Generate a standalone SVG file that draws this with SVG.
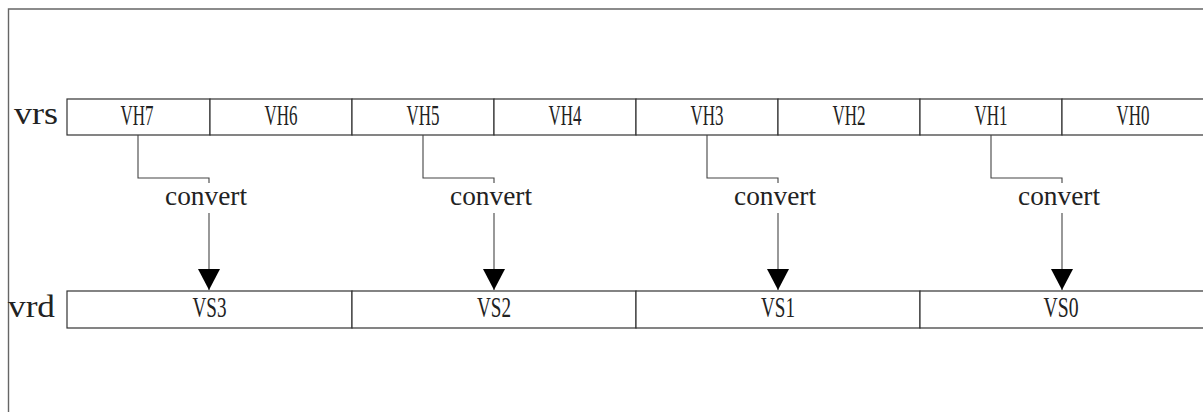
<svg xmlns="http://www.w3.org/2000/svg" width="1203" height="412" viewBox="0 0 1203 412">
  <style>
    .frame { fill: none; stroke: #666; stroke-width: 1.4; }
    .cell { fill: #fff; stroke: #333; stroke-width: 1.2; }
    .lbl { font-family: "Liberation Serif", serif; font-size: 29px; fill: #222; text-anchor: middle; }
    .reg { font-family: "Liberation Serif", serif; font-size: 32px; fill: #222; }
    .conv { font-family: "Liberation Serif", serif; font-size: 27px; fill: #222; text-anchor: middle; }
    .wire { fill: none; stroke: #444; stroke-width: 1.1; }
    .head { fill: #000; }
  </style>
  <defs>
    <marker id="arrow" markerWidth="21" markerHeight="22" refX="21" refY="11" orient="auto" markerUnits="userSpaceOnUse" viewBox="0 0 21 22">
      <path d="M0,0 L21,11 L0,22 Z" class="head"/>
    </marker>
  </defs>

  <rect width="1203" height="412" fill="#fff"/>
  <!-- outer frame, open to the right and bottom -->
  <path class="frame" d="M8.5,420 L8.5,9 L1210,9"/>

  <!-- source register row -->
  <text class="reg" x="14" y="124" textLength="44" lengthAdjust="spacingAndGlyphs">vrs</text>
  <g id="vh7"><rect class="cell" x="67" y="99" width="143" height="36"/><text class="lbl" x="137" y="125" textLength="33" lengthAdjust="spacingAndGlyphs">VH7</text></g>
  <g id="vh6"><rect class="cell" x="210" y="99" width="142" height="36"/><text class="lbl" x="281" y="125" textLength="33" lengthAdjust="spacingAndGlyphs">VH6</text></g>
  <g id="vh5"><rect class="cell" x="352" y="99" width="142" height="36"/><text class="lbl" x="423" y="125" textLength="33" lengthAdjust="spacingAndGlyphs">VH5</text></g>
  <g id="vh4"><rect class="cell" x="494" y="99" width="142" height="36"/><text class="lbl" x="565" y="125" textLength="33" lengthAdjust="spacingAndGlyphs">VH4</text></g>
  <g id="vh3"><rect class="cell" x="636" y="99" width="142" height="36"/><text class="lbl" x="707" y="125" textLength="33" lengthAdjust="spacingAndGlyphs">VH3</text></g>
  <g id="vh2"><rect class="cell" x="778" y="99" width="142" height="36"/><text class="lbl" x="849" y="125" textLength="33" lengthAdjust="spacingAndGlyphs">VH2</text></g>
  <g id="vh1"><rect class="cell" x="920" y="99" width="142" height="36"/><text class="lbl" x="991" y="125" textLength="33" lengthAdjust="spacingAndGlyphs">VH1</text></g>
  <g id="vh0"><rect class="cell" x="1062" y="99" width="160" height="36"/><text class="lbl" x="1133" y="125" textLength="33" lengthAdjust="spacingAndGlyphs">VH0</text></g>

  <!-- destination register row -->
  <text class="reg" x="8" y="317" textLength="47" lengthAdjust="spacingAndGlyphs">vrd</text>
  <g id="vs3"><rect class="cell" x="67" y="291" width="285" height="37"/><text class="lbl" x="209.5" y="317" textLength="34" lengthAdjust="spacingAndGlyphs">VS3</text></g>
  <g id="vs2"><rect class="cell" x="352" y="291" width="284" height="37"/><text class="lbl" x="494" y="317" textLength="34" lengthAdjust="spacingAndGlyphs">VS2</text></g>
  <g id="vs1"><rect class="cell" x="636" y="291" width="284" height="37"/><text class="lbl" x="778" y="317" textLength="34" lengthAdjust="spacingAndGlyphs">VS1</text></g>
  <g id="vs0"><rect class="cell" x="920" y="291" width="300" height="37"/><text class="lbl" x="1061" y="317" textLength="35" lengthAdjust="spacingAndGlyphs">VS0</text></g>

  <!-- convert connectors: odd halves feed each destination slot -->
  <g id="connectors">
    <path class="wire" d="M138,135 V178 H209 V183"/>
    <path class="wire" d="M209,213 V290" marker-end="url(#arrow)"/>
    <text class="conv" x="206" y="205" textLength="82" lengthAdjust="spacingAndGlyphs">convert</text>

    <path class="wire" d="M423,135 V178 H494 V183"/>
    <path class="wire" d="M494,213 V290" marker-end="url(#arrow)"/>
    <text class="conv" x="491" y="205" textLength="82" lengthAdjust="spacingAndGlyphs">convert</text>

    <path class="wire" d="M707,135 V178 H778 V183"/>
    <path class="wire" d="M778,213 V290" marker-end="url(#arrow)"/>
    <text class="conv" x="775" y="205" textLength="82" lengthAdjust="spacingAndGlyphs">convert</text>

    <path class="wire" d="M991,135 V178 H1062 V183"/>
    <path class="wire" d="M1062,213 V290" marker-end="url(#arrow)"/>
    <text class="conv" x="1059" y="205" textLength="82" lengthAdjust="spacingAndGlyphs">convert</text>
  </g>
</svg>
